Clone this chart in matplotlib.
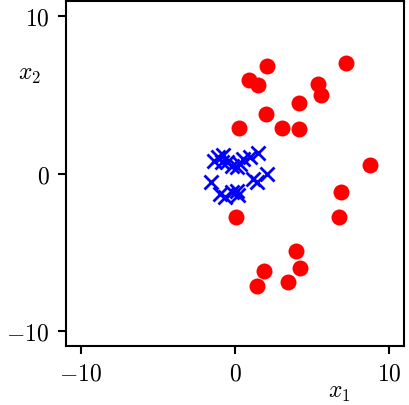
import numpy as np
import matplotlib
matplotlib.use("Agg")
import matplotlib.pyplot as plt

plt.rcParams["font.family"] = "serif"
plt.rcParams["font.serif"] = ["cmr10"]
plt.rcParams["mathtext.fontset"] = "cm"
plt.rcParams["axes.formatter.use_mathtext"] = True

# class 1 (red circles)
red_x = [2.05, 0.93, 1.49, 7.18, 5.37, 5.59, 4.16, 1.98, 0.28, 3.02,
         4.16, 8.78, 6.86, 6.71, 0.04, 3.97, 4.19, 1.88, 1.42, 3.45]
red_y = [6.84, 5.94, 5.62, 7.03, 5.68, 5.00, 4.50, 3.76, 2.91, 2.91,
         2.81, 0.53, -1.15, -2.75, -2.75, -4.89, -5.97, -6.16, -7.15, -6.85]

# class 2 (blue crosses)
blue_x = [-1.36, -1.08, -0.76, -0.86, -0.54, -0.21, 0.11, 0.32, 0.54, 0.97,
          1.51, -1.57, -0.97, -0.65, -0.21, 0.11, 0.19, 1.18, 1.40, 2.09]
blue_y = [0.78, 1.03, 1.18, 0.72, 0.72, 0.50, 0.40, 0.61, 0.93, 1.03,
          1.31, -0.55, -1.29, -1.50, -1.19, -1.08, -1.36, -0.34, -0.55, -0.03]

fig = plt.figure(figsize=(4.10, 4.06), dpi=100)
ax = fig.add_axes([0.161, 0.146, 0.824, 0.849])

ax.plot(red_x, red_y, "o", color="red", markersize=11.5, markeredgewidth=0)
ax.plot(blue_x, blue_y, "x", color="blue", markersize=10.5, markeredgewidth=2)

ax.set_xlim(-10.94, 10.94)
ax.set_ylim(-10.92, 10.94)
ax.set_xticks([-10, 0, 10])
ax.set_yticks([-10, 0, 10])
ax.tick_params(labelsize=17, length=6, width=1.5, pad=6)
for s in ax.spines.values():
    s.set_linewidth(1.5)

ax.text(0.81, -0.134, "$x_1$", transform=ax.transAxes, ha="center", va="center", fontsize=17)
ax.text(-0.107, 0.788, "$x_2$", transform=ax.transAxes, ha="center", va="center", fontsize=17)

fig.savefig("out.png", dpi=100)
